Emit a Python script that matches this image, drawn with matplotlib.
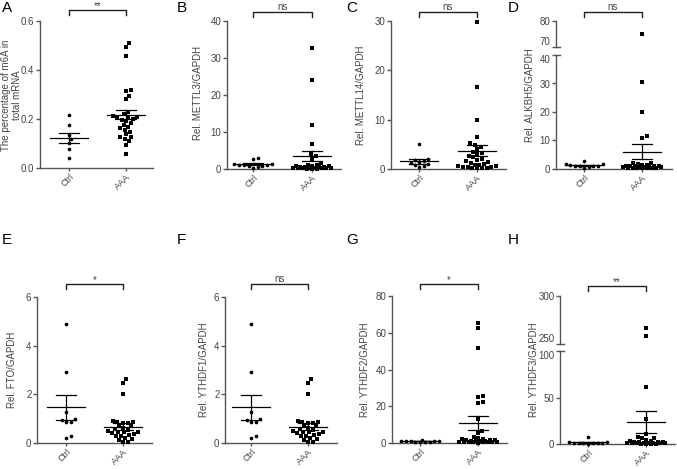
import numpy as np
import matplotlib
matplotlib.use('Agg')
import matplotlib.pyplot as plt
from matplotlib.lines import Line2D
from matplotlib.transforms import blended_transform_factory

plt.rcParams['font.family'] = ['Liberation Sans', 'DejaVu Sans']

W, H = 677, 469
groups = ['Ctrl', 'AAA']

# ---------------- data ----------------
A_ctrl = [0.216, 0.174, 0.135, 0.118, 0.100, 0.076, 0.042]
A_aaa = [0.509, 0.493, 0.459, 0.320, 0.314, 0.295, 0.280, 0.230, 0.220, 0.212,
         0.210, 0.207, 0.203, 0.199, 0.196, 0.192, 0.182, 0.174, 0.166, 0.162,
         0.155, 0.147, 0.137, 0.128, 0.125, 0.118, 0.110, 0.095, 0.058]
A_mean = [0.121, 0.218]
A_sem = [0.020, 0.019]

B_ctrl = [2.9, 2.6, 1.4, 1.3, 1.2, 1.1, 1.0, 0.9, 0.8, 0.6, 0.4]
B_aaa = [32.6, 24.1, 11.8, 6.7, 4.0, 3.6, 2.8, 1.5, 1.2, 1.0, 0.9, 0.8, 0.7, 0.6,
         0.6, 0.5, 0.5, 0.4, 0.4, 0.3, 0.3, 0.3, 0.2, 0.2, 0.2, 0.1, 0.1, 0.1]
B_mean = [1.25, 3.55]
B_sem = [0.25, 1.3]

C_ctrl = [5.0, 2.1, 1.9, 1.6, 1.4, 1.2, 1.0, 0.8, 0.6, 0.4]
C_aaa = [29.8, 16.6, 9.9, 6.4, 5.2, 4.8, 4.5, 4.0, 3.5, 3.2, 3.0, 2.6, 2.4, 2.1,
         1.8, 1.6, 1.4, 1.2, 1.0, 0.9, 0.8, 0.7, 0.6, 0.5, 0.5, 0.4, 0.3, 0.3,
         0.2, 0.2]
C_mean = [1.55, 3.7]
C_sem = [0.45, 1.15]

D_ctrl = [2.9, 1.9, 1.6, 1.4, 1.2, 1.1, 1.0, 0.9, 0.7, 0.5]
D_aaa = [74.9, 30.5, 20.0, 11.5, 11.0, 2.2, 2.1, 1.6, 1.4, 1.3, 1.2, 1.1, 1.0,
         1.0, 0.9, 0.8, 0.8, 0.7, 0.6, 0.6, 0.5, 0.5, 0.4, 0.4, 0.3, 0.3, 0.2]
D_mean = [1.3, 6.1]
D_sem = [0.2, 2.7]

E_ctrl = [4.9, 2.92, 1.29, 1.0, 0.93, 0.88, 0.85, 0.27, 0.22]
E_aaa = [2.62, 2.48, 2.01, 0.90, 0.88, 0.86, 0.84, 0.82, 0.70, 0.68, 0.63, 0.58,
         0.55, 0.50, 0.47, 0.45, 0.44, 0.40, 0.35, 0.33, 0.30, 0.27, 0.22, 0.16,
         0.12, 0.05, 0.05]
E_mean = [1.47, 0.67]
E_sem = [0.51, 0.14]

F_ctrl = [4.9, 2.92, 1.29, 1.0, 0.93, 0.88, 0.85, 0.27, 0.22]
F_aaa = [2.62, 2.48, 2.01, 0.90, 0.88, 0.86, 0.84, 0.82, 0.70, 0.68, 0.63, 0.58,
         0.55, 0.50, 0.47, 0.45, 0.44, 0.40, 0.35, 0.33, 0.30, 0.27, 0.22, 0.16,
         0.12, 0.05, 0.05]
F_mean = [1.47, 0.67]
F_sem = [0.51, 0.14]

G_ctrl = [1.5, 1.3, 1.2, 1.1, 1.0, 0.9, 0.8, 0.7, 0.6, 0.5]
G_aaa = [65.3, 62.8, 51.7, 25.8, 25.0, 22.3, 22.0, 13.2, 6.5, 5.4, 3.3, 2.6, 2.4,
         2.0, 1.8, 1.6, 1.4, 1.2, 1.1, 1.0, 0.9, 0.8, 0.7, 0.6, 0.5, 0.5, 0.4,
         0.3, 0.3, 0.2]
G_mean = [1.0, 10.9]
G_sem = [0.1, 3.6]

H_ctrl = [7.0, 2.0, 1.8, 1.5, 1.3, 1.1, 1.0, 0.8, 0.6, 0.5]
H_aaa = [267, 258, 61, 26.5, 10.4, 7.8, 6.8, 6.6, 4.0, 3.5, 3.0, 2.6, 2.2, 2.0,
         1.8, 1.6, 1.4, 1.2, 1.0, 0.9, 0.8, 0.7, 0.6, 0.5, 0.4, 0.3, 0.2]
H_mean = [1.8, 24.0]
H_sem = [0.6, 11.8]

ylabels = ['The percentage of m6A in\ntotal mRNA', 'Rel. METTL3/GAPDH',
           'Rel. METTL14/GAPDH', 'Rel. ALKBH5/GAPDH', 'Rel. FTO/GAPDH',
           'Rel. YTHDF1/GAPDH', 'Rel. YTHDF2/GAPDH', 'Rel. YTHDF3/GAPDH']
letters = ['A', 'B', 'C', 'D', 'E', 'F', 'G', 'H']
signif = ['**', 'ns', 'ns', 'ns', '*', 'ns', '*', '**']

A_ticks = [0.0, 0.2, 0.4, 0.6]
A_ticklabels = ['0.0', '0.2', '0.4', '0.6']

# ---------------- layout (pixels) ----------------
# segments: (ymin, ymax, top_px, bottom_px, ticks)
layout = [
    dict(axis=40, ctrl=69, aaa=126, right=153,
         segs=[(0, 0.6, 21, 168, A_ticks)], ylx=11.5, yly=95, let=(2, 1), br=10),
    dict(axis=227, ctrl=253, aaa=312, right=341,
         segs=[(0, 40, 21, 169, [0, 10, 20, 30, 40])], ylx=198, yly=93, let=(177, 1), br=12),
    dict(axis=391, ctrl=419, aaa=477, right=506,
         segs=[(0, 30, 21, 169, [0, 10, 20, 30])], ylx=361, yly=95, let=(346, 1), br=12),
    dict(axis=556, ctrl=584, aaa=642, right=672,
         segs=[(70, 80, 21, 47, [70, 80]), (0, 40, 55, 169, [0, 10, 20, 30, 40])],
         ylx=530, yly=95, let=(508, 1), br=12),
    dict(axis=37, ctrl=66, aaa=123, right=152,
         segs=[(0, 6, 297, 443, [0, 2, 4, 6])], ylx=12.5, yly=370, let=(2, 233), br=284),
    dict(axis=225, ctrl=251, aaa=308, right=337,
         segs=[(0, 6, 297, 443, [0, 2, 4, 6])], ylx=204, yly=370, let=(177, 233), br=284),
    dict(axis=392, ctrl=420, aaa=478, right=507,
         segs=[(0, 80, 296, 443, [0, 20, 40, 60, 80])], ylx=365, yly=370, let=(346, 233), br=284),
    dict(axis=560, ctrl=588, aaa=646, right=675,
         segs=[(250, 300, 296, 344, [250, 300]), (0, 100, 351, 444, [0, 50, 100])],
         ylx=534, yly=370, let=(508, 233), br=286),
]

data = [(A_ctrl, A_aaa, A_mean, A_sem), (B_ctrl, B_aaa, B_mean, B_sem),
        (C_ctrl, C_aaa, C_mean, C_sem), (D_ctrl, D_aaa, D_mean, D_sem),
        (E_ctrl, E_aaa, E_mean, E_sem), (F_ctrl, F_aaa, F_mean, F_sem),
        (G_ctrl, G_aaa, G_mean, G_sem), (H_ctrl, H_aaa, H_mean, H_sem)]

GRAY = '#555555'
TXT = '#444444'
FS = 7

fig = plt.figure(figsize=(W / 100, H / 100), dpi=100)


def to_px(v, segs):
    for (lo, hi, t, b, _) in segs:
        if lo <= v <= hi:
            return b - (v - lo) / (hi - lo) * (b - t)
    lo, hi, t, b, _ = segs[-1]
    return b - (v - lo) / (hi - lo) * (b - t)


def swarm(vals, segs, spacing=4.6, maxhalf=19.0, step=0.25):
    vals = np.asarray(vals, float)
    ypx = np.array([to_px(v, segs) for v in vals])
    steps = np.arange(step, maxhalf + 1e-9, step)
    cands = np.concatenate([[0.0], np.ravel(np.column_stack([steps, -steps]))])
    xs = np.zeros(len(vals))
    placed = []
    for i in np.argsort(vals, kind='stable'):
        best, bestscore = 0.0, -1.0
        for c in cands:
            if placed:
                P = np.array(placed)
                d = np.min(np.hypot(c - P[:, 0], ypx[i] - P[:, 1]))
            else:
                d = np.inf
            if d >= spacing:
                best = c
                break
            if d > bestscore:
                bestscore, best = d, c
        xs[i] = best
        placed.append((best, ypx[i]))
    return xs


for k, (lay, (ctrl, aaa, means, sems)) in enumerate(zip(layout, data)):
    d = lay['aaa'] - lay['ctrl']
    xl = ((lay['axis'] - lay['ctrl']) / d, (lay['right'] - lay['ctrl']) / d)
    segs = lay['segs']
    broken = len(segs) > 1
    offs = [swarm(ctrl, segs) / d, swarm(aaa, segs) / d]
    axes = []
    for si, (lo, hi, t, b, ticks) in enumerate(segs):
        ax = fig.add_axes([lay['axis'] / W, 1 - b / H, (lay['right'] - lay['axis']) / W, (b - t) / H])
        ax.set_xlim(*xl)
        ax.set_ylim(lo, hi)
        last = si == len(segs) - 1
        for s in ['top', 'right']:
            ax.spines[s].set_visible(False)
        ax.spines['left'].set_color(GRAY)
        ax.spines['left'].set_linewidth(1.0)
        ax.spines['bottom'].set_color(GRAY)
        ax.spines['bottom'].set_linewidth(1.0)
        ax.spines['bottom'].set_visible(last)
        ax.set_yticks(ticks)
        if k == 0:
            ax.set_yticklabels(A_ticklabels)
        else:
            ax.set_yticklabels([str(int(t_)) for t_ in ticks])
        ax.tick_params(axis='y', direction='out', length=3, width=1.0, color=GRAY,
                       labelsize=FS, labelcolor=TXT, pad=1)
        if broken and not last:
            lab = ax.get_yticklabels()[0]
            lab.set_va('bottom')
            ax.plot([xl[0], xl[0] + 4.0 / d], [lo, lo], color=GRAY, lw=1.0,
                    clip_on=False)
        if broken and last:
            lab = ax.get_yticklabels()[-1]
            lab.set_va('top')
            ax.plot([xl[0], xl[0] + 4.0 / d], [hi, hi], color=GRAY, lw=1.0,
                    clip_on=False)
        if last:
            ax.set_xticks([0, 1])
            ax.set_xticklabels(groups, rotation=45, ha='right', rotation_mode='anchor')
            ax.tick_params(axis='x', direction='out', length=2.5, width=1.0, color=GRAY,
                           labelsize=6.5, labelcolor=TXT, pad=0.5)
        else:
            ax.set_xticks([])
        ax.patch.set_visible(False)

        # points
        for gi, (vals, off) in enumerate(zip([ctrl, aaa], offs)):
            vals = np.asarray(vals, float)
            m = (vals >= lo) & (vals <= hi)
            if gi == 0:
                ax.scatter(gi + off[m], vals[m], s=7, marker='o', color='black',
                           linewidths=0, clip_on=False, zorder=3)
            else:
                ax.scatter(gi + off[m], vals[m], s=9, marker='s', color='black',
                           linewidths=0, clip_on=False, zorder=3)
        # mean and SEM
        for gi in range(2):
            mu, se = means[gi], sems[gi]
            if lo <= mu <= hi:
                ax.plot([gi - 0.33, gi + 0.33], [mu, mu], color='black', lw=0.9,
                        clip_on=False, zorder=4)
            for yv in (mu - se, mu + se):
                if lo <= yv <= hi:
                    ax.plot([gi - 0.17, gi + 0.17], [yv, yv], color='black', lw=0.9,
                            clip_on=False, zorder=4)
            y0, y1 = max(mu - se, lo), min(mu + se, hi)
            if y1 > y0:
                ax.plot([gi, gi], [y0, y1], color='black', lw=0.9, clip_on=False, zorder=4)
        axes.append(ax)

    # significance bracket (above the top axes)
    top_ax = axes[0]
    tr = blended_transform_factory(top_ax.transData, fig.transFigure)
    yb = 1 - lay['br'] / H
    ye = 1 - (lay['br'] + 5) / H
    fig.add_artist(Line2D([0, 0, 1, 1], [ye, yb, yb, ye], transform=tr,
                          color='#222222', lw=1.0))
    lift = 0.5 if '*' in signif[k] else 2.5
    fig.text(0.5, yb + lift / H, signif[k], transform=tr, ha='center', va='baseline',
             fontsize=FS, color=TXT)

    # y label
    fig.text(lay['ylx'] / W, 1 - lay['yly'] / H, ylabels[k], rotation=90,
             ha='center', va='center', fontsize=FS, color=TXT, linespacing=1.0)
    # panel letter
    fig.text(lay['let'][0] / W, 1 - lay['let'][1] / H, letters[k], ha='left', va='top',
             fontsize=11, color='black')

fig.savefig('out.png', dpi=100)
